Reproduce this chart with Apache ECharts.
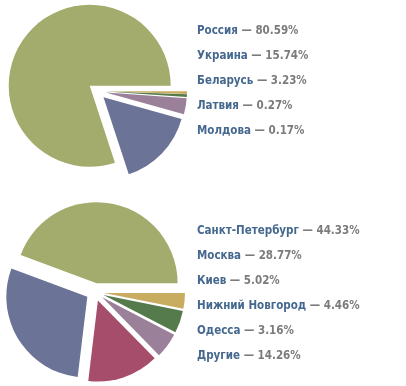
<!DOCTYPE html>
<html>
<head>
<meta charset="utf-8">
<script src="https://cdn.jsdelivr.net/npm/echarts@6/dist/echarts.min.js"></script>
<style>
html,body{margin:0;padding:0;background:#fff;}
#chart{width:406px;height:386px;}
</style>
</head>
<body>
<div id="chart"></div>
<script>
// Pie 1: countries
const countryNames = ['Россия', 'Украина', 'Беларусь', 'Латвия', 'Молдова'];
const countryValues = [80.59, 15.74, 3.23, 0.27, 0.17];
const countryColors = ['#A3AC6C', '#6B7497', '#9A8099', '#557A4B', '#C8AC60'];

// Pie 2: cities (drawing order)
const cityNames = ['Санкт-Петербург', 'Москва', 'Другие', 'Киев', 'Нижний Новгород', 'Одесса'];
const cityValues = [44.33, 28.77, 14.26, 5.02, 4.46, 3.16];
const cityColors = ['#A3AC6C', '#6B7497', '#A54D6A', '#9A8099', '#557A4B', '#C8AC60'];
// Legend order for cities
const cityLegendOrder = ['Санкт-Петербург', 'Москва', 'Киев', 'Нижний Новгород', 'Одесса', 'Другие'];

const pctByName = {};
countryNames.forEach((n, i) => pctByName[n] = countryValues[i]);
cityNames.forEach((n, i) => pctByName[n] = cityValues[i]);

const FONT = '"DejaVu Sans Condensed", "DejaVu Sans", sans-serif';
const FS = 11.5;
const rich = {
  n: { color: '#45688E', fontWeight: 'bold', fontSize: FS, fontFamily: FONT, lineHeight: 14 },
  p: { color: '#7B7B7B', fontWeight: 'bold', fontSize: FS, fontFamily: FONT, lineHeight: 14 }
};
function fmt(name) {
  return '{n|' + name + '}{p| — ' + pctByName[name].toFixed(2) + '%}';
}
function legend(names, top) {
  return {
    orient: 'vertical', left: 192, top: top,
    data: names, icon: 'none', itemWidth: 0, itemHeight: 14, itemGap: 12,
    selectedMode: false, padding: 0,
    formatter: fmt,
    textStyle: { rich: rich, fontFamily: FONT, fontSize: FS }
  };
}
function pieData(names, values, colors) {
  return names.map((n, i) => ({ name: n, value: values[i], selected: true, itemStyle: { color: colors[i] } }));
}
function pie(names, values, colors, cx, cy) {
  return {
    type: 'pie', center: [cx, cy], radius: 81,
    startAngle: 0, clockwise: false, minAngle: 2,
    selectedMode: 'multiple', selectedOffset: 9,
    label: { show: false }, labelLine: { show: false },
    emphasis: { disabled: true }, silent: true,
    itemStyle: { borderWidth: 0 },
    data: pieData(names, values, colors)
  };
}

const chart = echarts.init(document.getElementById('chart'), null, { renderer: 'canvas' });
chart.setOption({
  animation: false,
  backgroundColor: '#ffffff',
  legend: [legend(countryNames, 24), legend(cityLegendOrder, 224)],
  series: [
    pie(countryNames, countryValues, countryColors, 97, 91),
    pie(cityNames, cityValues, cityColors, 95, 292)
  ]
});
</script>
</body>
</html>
